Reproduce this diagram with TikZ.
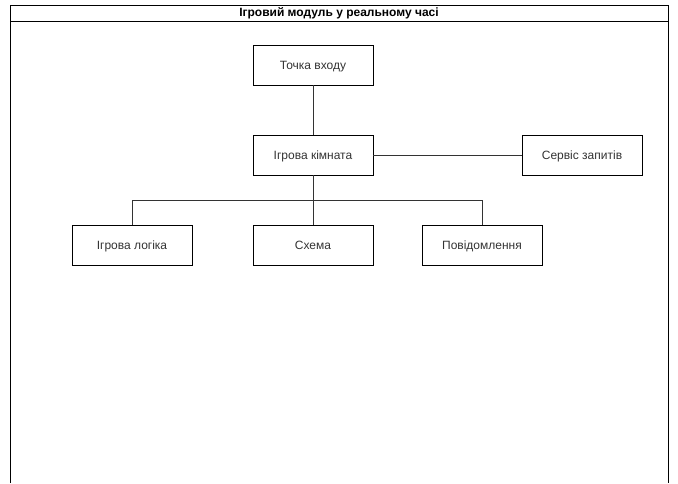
\documentclass[tikz,border=0pt]{standalone}
\usepackage{fontspec}
\setmainfont{Liberation Sans}
\usepackage{tikz}
\usetikzlibrary{positioning}

\definecolor{linegray}{HTML}{333333}

\tikzset{
    block/.style={draw=black, line width=0.8pt, minimum width=120pt, minimum height=40pt,
        inner sep=0pt, text=linegray, text height=10pt, text depth=0.5pt,
        font=\fontsize{12}{14}\selectfont},
    link/.style={draw=linegray, line width=0.8pt}
}

\begin{document}
\begin{tikzpicture}[x=1pt, y=-1pt]
    \useasboundingbox (0,0) rectangle (678,483);

    % --- frame with title bar ---
    \draw[line width=0.9pt] (10,483) -- (10,5) -- (668,5) -- (668,483);
    \draw[line width=0.9pt] (10,21) -- (668,21);
    \node[text height=8.5pt, text depth=2pt, inner sep=0pt] (title) at (339,13.5)
        {\fontsize{12}{14}\selectfont\bfseries Ігровий модуль у реальному часі};

    % --- nodes ---
    \node[block] (entry) at (313,65) {Точка входу};
    \node[block] (room) at (313,155) {Ігрова кімната};
    \node[block] (requests) at (582,155) {Сервіс запитів};
    \node[block] (logic) at (132,245) {Ігрова логіка};
    \node[block] (schema) at (313,245) {Схема};
    \node[block] (messages) at (482,245) {Повідомлення};

    % --- connectors ---
    \draw[link] (entry) -- (room);
    \draw[link] (room) -- (requests);
    \coordinate (fork) at (313,200);
    \draw[link] (room) -- (fork);
    \draw[link] (fork) -- (schema);
    \draw[link] (fork) -| (logic);
    \draw[link] (fork) -| (messages);

\end{tikzpicture}
\end{document}
